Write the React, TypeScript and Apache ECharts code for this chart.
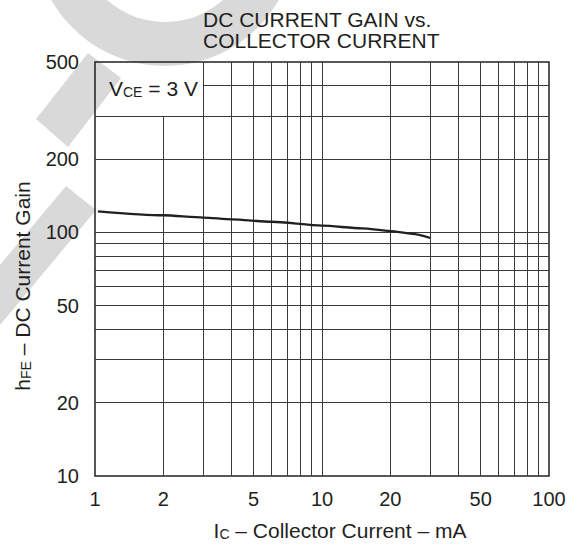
import React, { useEffect, useRef } from "react";
import * as echarts from "echarts";

// Curve: hFE vs Ic at VCE = 3 V
const currentMA = [1.03, 2, 3, 4, 6, 10, 15, 20, 25, 30];
const gainHFE = [122, 117.5, 115, 113, 110.5, 106.5, 103.8, 101.2, 98.6, 94.8];

// Tick labels
const xTickLabels = [1, 2, 5, 10, 20, 50, 100];
const yTickLabels = [10, 20, 50, 100, 200, 500];

// Grid lines
const xGridValues = [2, 3, 4, 5, 6, 7, 8, 9, 10, 20, 30, 40, 50, 60, 70, 80, 90];
const yGridValues = [20, 30, 40, 50, 60, 70, 80, 90, 100, 200, 300, 400];

const FONT = "'Liberation Sans', Arial, Helvetica, sans-serif";
const INK = "#231f20";
const WM = "#d9d9d9";

export default function App() {
  const ref = useRef<HTMLDivElement>(null);

  useEffect(() => {
    if (!ref.current) return;
    const chart = echarts.init(ref.current, undefined, { renderer: "svg" });

    const xMin = 1, xMax = 100, yMin = 10, yMax = 500;
    const gridData: any[] = [];
    xGridValues.forEach((x) => {
      gridData.push([{ coord: [x, yMin] }, { coord: [x, x === 2 ? 300 : yMax] }]);
    });
    yGridValues.forEach((y) => {
      gridData.push([{ coord: [y === 400 ? 3 : xMin, y] }, { coord: [xMax, y] }]);
    });

    const data = currentMA.map((x, i) => [x, gainHFE[i]]);
    const rich = {
      a: { fontFamily: FONT, fontSize: 21, lineHeight: 21, fill: INK, verticalAlign: "bottom" },
      b: { fontFamily: FONT, fontSize: 14, lineHeight: 14, fill: INK, verticalAlign: "bottom" },
    };

    chart.setOption({
      animation: false,
      backgroundColor: "#ffffff",
      graphic: [
        // watermark
        {
          type: "ring",
          z: 0,
          silent: true,
          shape: { cx: 165, cy: -65, r: 131, r0: 87 },
          style: { fill: WM },
        },
        {
          type: "polygon",
          z: 0,
          silent: true,
          shape: { points: [[88, 53], [121, 78], [68, 147], [36, 119]] },
          style: { fill: WM },
        },
        {
          type: "polygon",
          z: 0,
          silent: true,
          shape: { points: [[66, 186], [96, 210], [0, 325], [0, 265]] },
          style: { fill: WM },
        },
        // title
        {
          type: "text",
          z: 10,
          x: 203,
          y: 19,
          style: {
            text: "DC CURRENT GAIN vs.",
            fill: INK,
            font: `21px ${FONT}`,
            verticalAlign: "middle",
            textAlign: "left",
          },
        },
        {
          type: "text",
          z: 10,
          x: 203,
          y: 40,
          style: {
            text: "COLLECTOR CURRENT",
            fill: INK,
            font: `21px ${FONT}`,
            verticalAlign: "middle",
            textAlign: "left",
          },
        },
        // VCE annotation
        {
          type: "text",
          z: 10,
          x: 109,
          y: 88,
          style: {
            text: "{a|V}{b|CE}{a| = 3 V}",
            fill: INK,
            verticalAlign: "middle",
            textAlign: "left",
            rich,
          },
        },
        // x axis name
        {
          type: "text",
          z: 10,
          x: 340,
          y: 530,
          style: {
            text: "{a|I}{b|C}{a| – Collector Current – mA}",
            fill: INK,
            verticalAlign: "middle",
            textAlign: "center",
            rich,
          },
        },
        // y axis name
        {
          type: "text",
          z: 10,
          x: 22,
          y: 286,
          rotation: Math.PI / 2,
          style: {
            text: "{a|h}{b|FE}{a| – DC Current Gain}",
            fill: INK,
            verticalAlign: "middle",
            textAlign: "center",
            rich,
          },
        },
      ],
      grid: {
        left: 95,
        right: 30,
        top: 62,
        bottom: 69,
        show: true,
        borderColor: INK,
        borderWidth: 1.5,
        backgroundColor: "transparent",
        z: 3,
      },
      xAxis: {
        type: "log",
        logBase: 10,
        min: xMin,
        max: xMax,
        axisLine: { show: false },
        axisTick: { show: false },
        splitLine: { show: false },
        minorTick: { show: false },
        axisLabel: {
          customValues: xTickLabels,
          fontFamily: FONT,
          fontSize: 20,
          lineHeight: 20,
          color: INK,
          margin: 13,
          formatter: (v: number) => String(Math.round(v)),
        },
      },
      yAxis: {
        type: "log",
        logBase: 10,
        min: yMin,
        max: yMax,
        axisLine: { show: false },
        axisTick: { show: false },
        splitLine: { show: false },
        minorTick: { show: false },
        axisLabel: {
          customValues: yTickLabels,
          fontFamily: FONT,
          fontSize: 20,
          lineHeight: 20,
          color: INK,
          margin: 16,
          formatter: (v: number) => String(Math.round(v)),
        },
      },
      series: [
        {
          type: "line",
          name: "hFE",
          data,
          smooth: 0.25,
          smoothMonotone: "x",
          symbol: "none",
          z: 5,
          lineStyle: { color: INK, width: 2.3 },
          markLine: {
            silent: true,
            symbol: ["none", "none"],
            animation: false,
            label: { show: false },
            lineStyle: { color: "#3a3a3a", width: 1, type: "solid" },
            emphasis: { disabled: true },
            data: gridData,
          },
        },
      ],
    });

    return () => chart.dispose();
  }, []);

  return (
    <div
      ref={ref}
      style={{ position: "fixed", left: 0, top: 0, width: 579, height: 545 }}
    />
  );
}
